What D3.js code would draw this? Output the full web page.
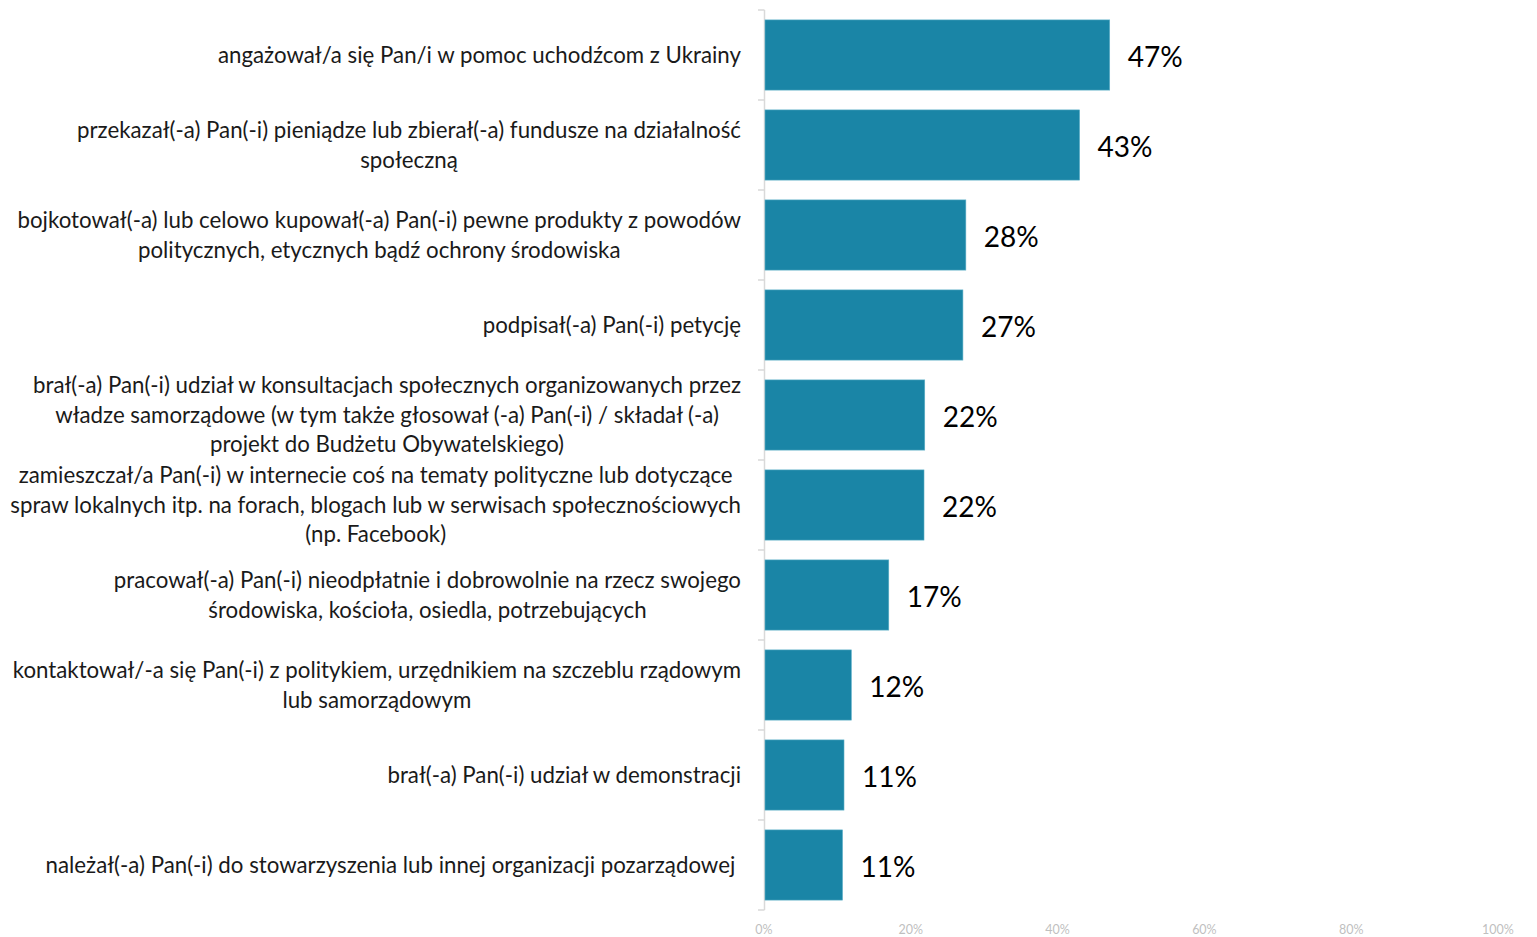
<!DOCTYPE html>
<head>
    <meta charset='utf-8'>
    <title>Aktywność obywatelska</title>
    <script src='https://cdn.jsdelivr.net/npm/d3@7'></script>
    <style>
        body { margin: 0; background: white; }
        svg text { font-family: Lato, 'Open Sans', sans-serif; }
    </style>
</head>
<body>
<script>
//DATA
var labels = [
    ['angażował/a się Pan/i w pomoc uchodźcom z Ukrainy'],
    ['przekazał(-a) Pan(-i) pieniądze lub zbierał(-a) fundusze na działalność', 'społeczną'],
    ['bojkotował(-a) lub celowo kupował(-a) Pan(-i) pewne produkty z powodów', 'politycznych, etycznych bądź ochrony środowiska'],
    ['podpisał(-a) Pan(-i) petycję'],
    ['brał(-a) Pan(-i) udział w konsultacjach społecznych organizowanych przez', 'władze samorządowe (w tym także głosował (-a) Pan(-i) / składał (-a)', 'projekt do Budżetu Obywatelskiego)'],
    ['zamieszczał/a Pan(-i) w internecie coś na tematy polityczne lub dotyczące', 'spraw lokalnych itp. na forach, blogach lub w serwisach społecznościowych', '(np. Facebook)'],
    ['pracował(-a) Pan(-i) nieodpłatnie i dobrowolnie na rzecz swojego', 'środowiska, kościoła, osiedla, potrzebujących'],
    ['kontaktował/-a się Pan(-i) z politykiem, urzędnikiem na szczeblu rządowym', 'lub samorządowym'],
    ['brał(-a) Pan(-i) udział w demonstracji'],
    ['należał(-a) Pan(-i) do stowarzyszenia lub innej organizacji pozarządowej\u00a0']
];
// labels show rounded values
var values = [47.1, 43.0, 27.5, 27.1, 21.9, 21.8, 17.0, 11.9, 10.9, 10.7];
var ticks = [0, 20, 40, 60, 80, 100];

//LAYOUT
var W = 1537, H = 937;
var x0 = 764, x1 = 1498, yTop = 10, yBot = 910;
var labelRight = 741, labelMax = 731, lineH = 29.5;

var svg = d3.select('body').append('svg')
    .attr('width', W).attr('height', H);

var x = d3.scaleLinear().domain([0, 100]).range([x0, x1]);
var yb = d3.scaleBand().domain(d3.range(values.length)).range([yTop, yBot]);
var barH = yb.step() * 0.78;

//AXIS
svg.append('line')
    .attr('x1', x0 + 0.5).attr('x2', x0 + 0.5)
    .attr('y1', yTop).attr('y2', yBot)
    .attr('stroke', '#d9d9d9').attr('stroke-width', 1.5);

svg.selectAll('.ytick')
    .data(d3.range(values.length + 1))
    .enter().append('line')
    .attr('x1', x0 - 6).attr('x2', x0 + 0.5)
    .attr('y1', d => yTop + d * yb.step()).attr('y2', d => yTop + d * yb.step())
    .attr('stroke', '#d9d9d9').attr('stroke-width', 1.5);

svg.selectAll('.xtick')
    .data(ticks).enter()
    .append('text')
    .attr('x', d => x(d)).attr('y', 934)
    .attr('text-anchor', 'middle')
    .style('font-size', '12.5px')
    .style('fill', '#bfbfbf')
    .text(d => d + '%');

//BARS
svg.selectAll('.bar')
    .data(values).enter()
    .append('rect')
    .attr('x', x(0) + 1)
    .attr('y', (d, i) => yb(i) + (yb.step() - barH) / 2)
    .attr('width', d => x(d) - x(0) - 1)
    .attr('height', barH)
    .attr('fill', '#1a85a6')
    .attr('stroke', '#5fb0c8').attr('stroke-width', 0.6);

svg.selectAll('.val')
    .data(values).enter()
    .append('text')
    .attr('x', d => x(d) + 18)
    .attr('y', (d, i) => yb(i) + yb.bandwidth() / 2 + 2)
    .attr('dy', '0.35em')
    .style('font-size', '28px')
    .style('fill', '#000')
    .text(d => Math.round(d) + '%');

//CATEGORY LABELS
var lab = svg.selectAll('.lab')
    .data(labels).enter()
    .append('text')
    .attr('class', 'lab')
    .attr('text-anchor', 'middle')
    .style('font-size', '20px')
    .style('fill', '#1a1a1a')
    .style('white-space', 'pre');

lab.selectAll('tspan')
    .data((d, i) => d.map((t, j) => ({t: t, j: j, n: d.length, i: i})))
    .enter().append('tspan')
    .attr('y', d => yb(d.i) + yb.bandwidth() / 2 + (d.j - (d.n - 1) / 2) * lineH)
    .attr('dy', '0.35em')
    .text(d => d.t);

// fit widest line into the label column
var widest = 0;
lab.selectAll('tspan').each(function() { widest = Math.max(widest, this.getComputedTextLength()); });
var fs = Math.min(22.5, 20 * labelMax / widest);
lab.style('font-size', fs + 'px');

lab.each(function() {
    var w = 0;
    d3.select(this).selectAll('tspan').each(function() { w = Math.max(w, this.getComputedTextLength()); });
    d3.select(this).selectAll('tspan').attr('x', labelRight - w / 2);
});
</script>
</body>
